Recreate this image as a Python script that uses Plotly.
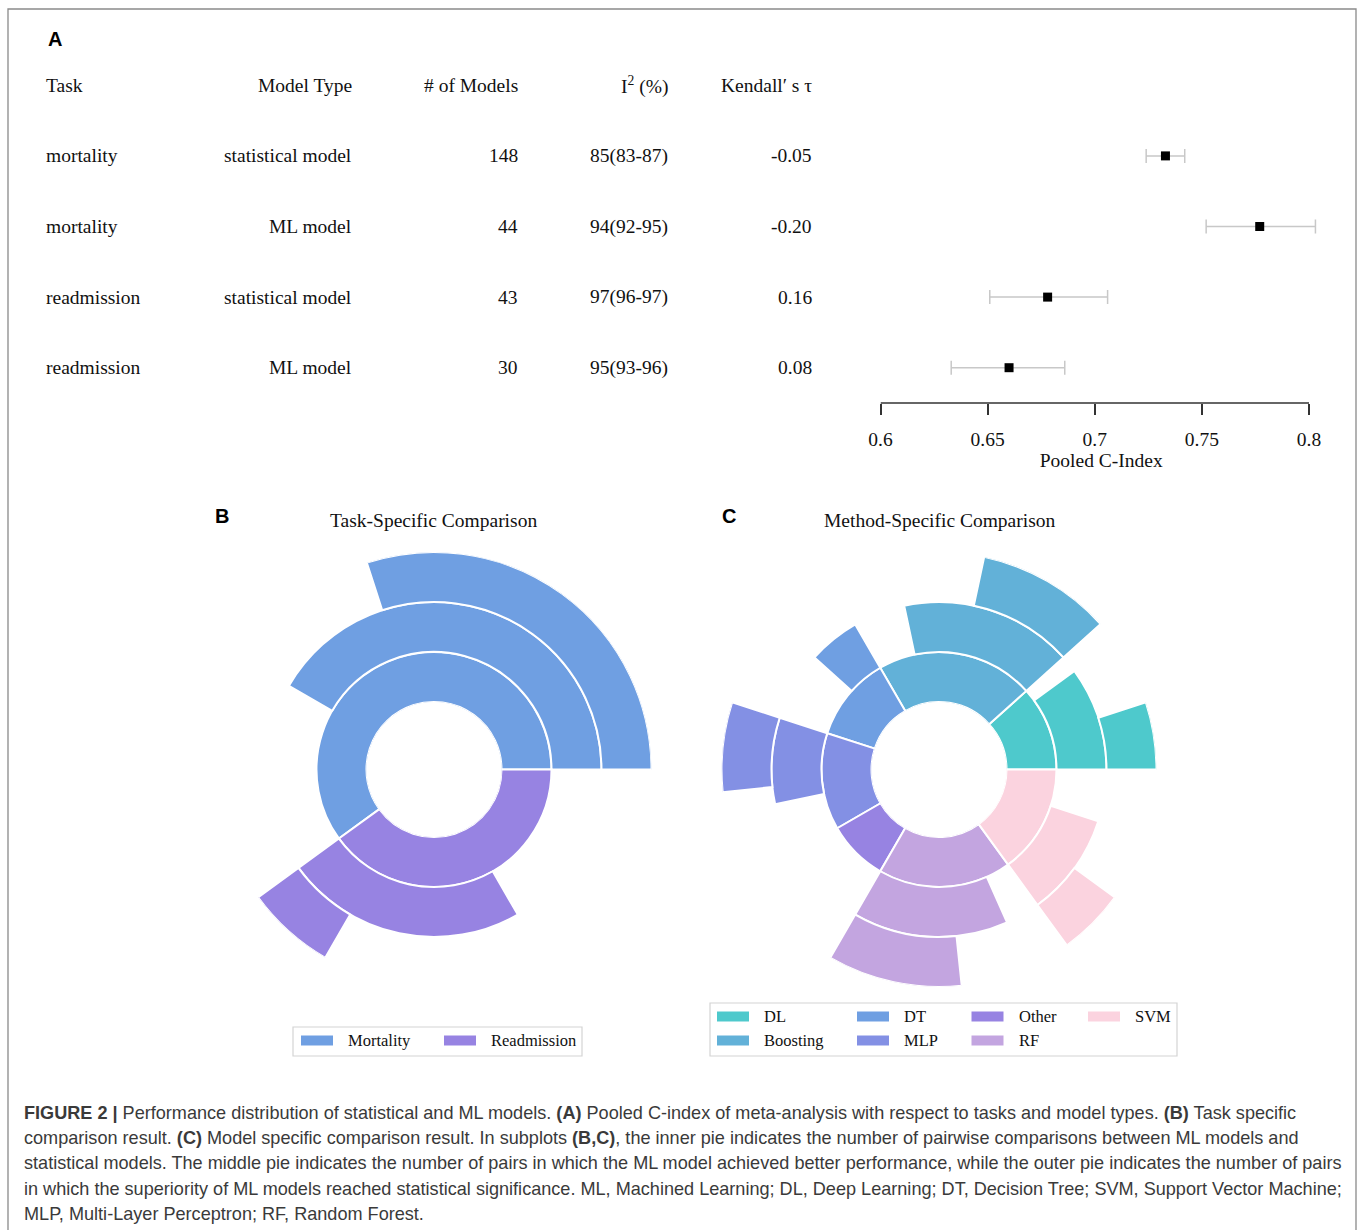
import plotly.graph_objects as go

W, H = 1358, 1230

# ---------------- Panel A: meta-analysis table + forest plot ----------------
header = ["Task", "Model Type", "# of Models", "I<sup>2</sup> (%)", "Kendall\u2032 s \u03c4"]
tasks = ["mortality", "mortality", "readmission", "readmission"]
model_types = ["statistical model", "ML model", "statistical model", "ML model"]
n_models = ["148", "44", "43", "30"]
i2_text = ["85(83-87)", "94(92-95)", "97(96-97)", "95(93-96)"]
kendall_tau = ["-0.05", "-0.20", "0.16", "0.08"]
pooled_c = [0.733, 0.777, 0.678, 0.660]
ci_low = [0.724, 0.752, 0.651, 0.633]
ci_high = [0.742, 0.803, 0.706, 0.686]
c_ticks = [0.6, 0.65, 0.7, 0.75, 0.8]
c_tick_labels = ["0.6", "0.65", "0.7", "0.75", "0.8"]

# ---------------- Panel B: task-specific comparison ----------------
task_names = ["Mortality", "Readmission"]
task_colors = ["#6f9fe2", "#9783e2"]
task_pairs = [72, 48]      # inner ring: pairwise comparisons
task_better = [50, 28]     # middle ring: ML model better
task_signif = [36, 8]      # outer ring: ML superiority significant

# ---------------- Panel C: method-specific comparison ----------------
method_names = ["DL", "Boosting", "DT", "MLP", "Other", "RF", "SVM"]
method_colors = ["#4ec9cc", "#62b1d8", "#6f9fe2", "#8390e4", "#9783e2", "#c3a5e0", "#fbd3df"]
method_pairs = [14, 26, 14, 16, 10, 22, 18]
method_better = [12, 20, 6, 10, 0, 18, 12]
method_signif = [6, 12, 0, 8, 0, 12, 6]

SERIF = "Liberation Serif, Times New Roman, serif"
SANS = "Liberation Sans, Arial, sans-serif"


def px(x):
    return x / W


def py(y):
    return 1 - y / H


fig = go.Figure()

# Forest plot: pooled C-index with confidence intervals
rows = list(range(len(tasks)))
fig.add_trace(go.Scatter(
    x=pooled_c, y=rows, mode="markers",
    marker=dict(symbol="square", size=9, color="black"),
    error_x=dict(type="data", symmetric=False,
                 array=[h - c for h, c in zip(ci_high, pooled_c)],
                 arrayminus=[c - l for c, l in zip(pooled_c, ci_low)],
                 color="#c8c8c8", thickness=1.5, width=7),
    cliponaxis=False, showlegend=False, hoverinfo="skip",
    xaxis="x", yaxis="y",
))


def add_rings(names, colors, pairs, better, signif, subplot):
    scale = 360.0 / sum(pairs)
    start = 0.0
    for name, color, n, b, s in zip(names, colors, pairs, better, signif):
        thetas, widths, bases = [], [], []
        for ring, count in enumerate((n, b, s)):
            if count > 0:
                span = count * scale
                thetas.append(start + span / 2)
                widths.append(span)
                bases.append(ring)
        fig.add_trace(go.Barpolar(
            r=[1] * len(thetas), theta=thetas, width=widths, base=bases,
            marker=dict(color=color, line=dict(color="white", width=2)),
            name=name, subplot=subplot, showlegend=False, hoverinfo="name",
        ))
        start += n * scale


add_rings(task_names, task_colors, task_pairs, task_better, task_signif, "polar")
add_rings(method_names, method_colors, method_pairs, method_better, method_signif, "polar2")

R_OUT = 217.5
HOLE = 67.5 / R_OUT


def polar_layout(cx, cy):
    return dict(
        domain=dict(x=[px(cx - R_OUT), px(cx + R_OUT)], y=[py(cy + R_OUT), py(cy - R_OUT)]),
        hole=HOLE, bgcolor="white", barmode="overlay",
        radialaxis=dict(visible=False, range=[0, 3]),
        angularaxis=dict(visible=False, rotation=0, direction="counterclockwise"),
    )


annotations = []
shapes = []

# Table text, aligned on the forest plot rows
col_x = [44, 354, 520, 670, 814]
col_anchor = ["left", "right", "right", "right", "right"]
columns = [tasks, model_types, n_models, i2_text, kendall_tau]
for j, head in enumerate(header):
    annotations.append(dict(x=px(col_x[j]), y=-1, xref="paper", yref="y", text=head,
                            xanchor=col_anchor[j], yanchor="middle", showarrow=False,
                            font=dict(family=SERIF, size=19.5, color="#111")))
    for i, val in enumerate(columns[j]):
        annotations.append(dict(x=px(col_x[j]), y=i, xref="paper", yref="y", text=val,
                                xanchor=col_anchor[j], yanchor="middle", showarrow=False,
                                font=dict(family=SERIF, size=19.5, color="#111")))

# Panel letters and titles
for letter, lx, ly in [("A", 46, 39), ("B", 213, 516), ("C", 720, 516)]:
    annotations.append(dict(x=px(lx), y=py(ly), xref="paper", yref="paper", text=f"<b>{letter}</b>",
                            xanchor="left", yanchor="middle", showarrow=False,
                            font=dict(family=SANS, size=20, color="black")))
for title, tx in [("Task-Specific Comparison", 434), ("Method-Specific Comparison", 939)]:
    annotations.append(dict(x=px(tx), y=py(520), xref="paper", yref="paper", text=title,
                            xanchor="center", yanchor="middle", showarrow=False,
                            font=dict(family=SERIF, size=19.5, color="#111")))


# Legends drawn as swatches + labels
def legend_box(x0, y0, x1, y1):
    shapes.append(dict(type="rect", xref="paper", yref="paper",
                       x0=px(x0), x1=px(x1), y0=py(y1), y1=py(y0),
                       line=dict(color="#d4d4d4", width=1.2), fillcolor="white", layer="below"))


def legend_item(label, color, sx, cy):
    shapes.append(dict(type="rect", xref="paper", yref="paper",
                       x0=px(sx), x1=px(sx + 32), y0=py(cy + 5), y1=py(cy - 5),
                       line=dict(width=0), fillcolor=color))
    annotations.append(dict(x=px(sx + 45), y=py(cy), xref="paper", yref="paper", text=label,
                            xanchor="left", yanchor="middle", showarrow=False,
                            font=dict(family=SERIF, size=16.5, color="#111")))


legend_box(293, 1027, 582, 1056)
for k, (name, color) in enumerate(zip(task_names, task_colors)):
    legend_item(name, color, 301 + 143 * k, 1040.5)

legend_box(710, 1003, 1177, 1056)
leg_cols = [717, 857, 971.5, 1088]
for k, (name, color) in enumerate(zip(method_names, method_colors)):
    legend_item(name, color, leg_cols[k // 2], 1016.5 + 24 * (k % 2))

# Caption
caption_lines = [
    "<b>FIGURE 2 |</b> Performance distribution of statistical and ML models. <b>(A)</b> Pooled C-index of meta-analysis with respect to tasks and model types. <b>(B)</b> Task specific",
    "comparison result. <b>(C)</b> Model specific comparison result. In subplots <b>(B,C)</b>, the inner pie indicates the number of pairwise comparisons between ML models and",
    "statistical models. The middle pie indicates the number of pairs in which the ML model achieved better performance, while the outer pie indicates the number of pairs",
    "in which the superiority of ML models reached statistical significance. ML, Machined Learning; DL, Deep Learning; DT, Decision Tree; SVM, Support Vector Machine;",
    "MLP, Multi-Layer Perceptron; RF, Random Forest.",
]
for k, line in enumerate(caption_lines):
    annotations.append(dict(x=px(22), y=py(1113 + 25.2 * k), xref="paper", yref="paper", text=line,
                            xanchor="left", yanchor="middle", showarrow=False,
                            font=dict(family=SANS, size=18.1, color="#3a3a3a")))

# Outer frame
shapes.append(dict(type="rect", xref="paper", yref="paper",
                   x0=px(8), x1=px(1356), y0=-0.05, y1=py(9),
                   line=dict(color="#8a8a8a", width=1.3), layer="below"))

# Forest plot axis: the scale runs a little past 0.8 so the widest interval is not clipped;
# the baseline itself is drawn from 0.6 to 0.8 only.
X_LEFT, X_RIGHT, PX_PER_UNIT = 880.5, 1322.0, 2142.5
x_range = [c_ticks[0], c_ticks[0] + (X_RIGHT - X_LEFT) / PX_PER_UNIT]
shapes.append(dict(type="line", xref="x", yref="paper", x0=c_ticks[0], x1=c_ticks[-1],
                   y0=py(403), y1=py(403), line=dict(color="#333", width=1.5)))

fig.update_layout(
    width=W, height=H, margin=dict(l=0, r=0, t=0, b=0, pad=0, autoexpand=False),
    paper_bgcolor="white", plot_bgcolor="white", showlegend=False,
    xaxis=dict(domain=[px(X_LEFT), px(X_RIGHT)], range=x_range, automargin=False,
               showline=False,
               ticks="outside", ticklen=11, tickwidth=1.5, tickcolor="#333",
               tickvals=c_ticks, ticktext=c_tick_labels, ticklabelstandoff=8,
               tickfont=dict(family=SERIF, size=19.5, color="#111"),
               showgrid=False, zeroline=False,
               title=dict(text="Pooled C-Index", standoff=1,
                          font=dict(family=SERIF, size=19.5, color="#111"))),
    yaxis=dict(domain=[py(403), py(50)], range=[3.5, -1.5], visible=False, automargin=False),
    polar=polar_layout(434, 769.5),
    polar2=polar_layout(939, 769.5),
    annotations=annotations, shapes=shapes,
)

fig.write_html("out.html")
